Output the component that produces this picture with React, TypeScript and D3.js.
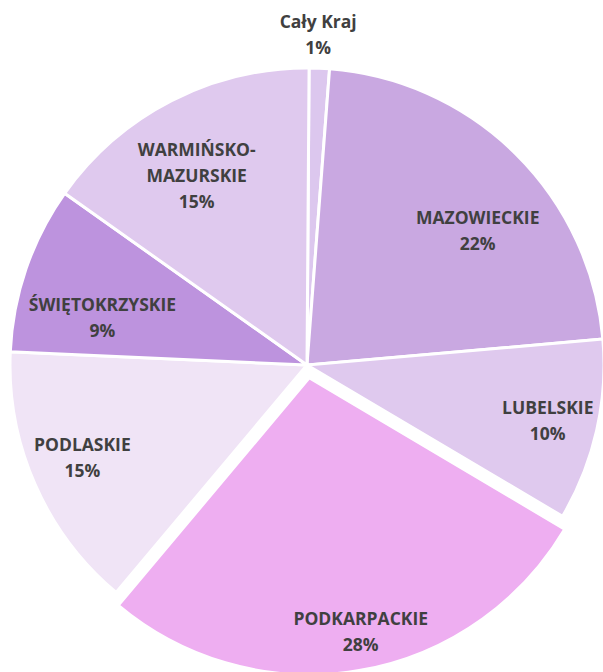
import React from "react";
import { pie, arc, PieArcDatum } from "d3";

// shares; labels show the rounded value
const regions = [
  "Cały Kraj",
  "MAZOWIECKIE",
  "LUBELSKIE",
  "PODKARPACKIE",
  "PODLASKIE",
  "ŚWIĘTOKRZYSKIE",
  "WARMIŃSKO-MAZURSKIE",
];
const shares = [1.1, 22.4, 9.9, 27.6, 14.6, 9.1, 15.3];
const colors = [
  "#dcc7ee",
  "#c9a8e1",
  "#dfc9ee",
  "#eeaef1",
  "#f0e4f6",
  "#bd93de",
  "#dfc9ee",
];

// label line breaks and placement (layout only)
const labelLines: Record<string, string[]> = {
  "WARMIŃSKO-MAZURSKIE": ["WARMIŃSKO-", "MAZURSKIE"],
};
const labelAngleNudge = [-0.45, 7.2, 0.1, -1.8, 1.3, -5.9, -3.1];
const labelRadius = [331, 217, 247, 259, 243, 210, 219];

type Slice = { name: string; value: number; color: string };

export default function App() {
  const width = 603;
  const height = 672;
  const cx = 307;
  const cy = 365;
  const radius = 297;
  const explode = 13;
  const rot = (0.4 * Math.PI) / 180;

  const data: Slice[] = regions.map((name, i) => ({
    name,
    value: shares[i],
    color: colors[i],
  }));

  const arcs = pie<Slice>()
    .value((d) => d.value)
    .sort(null)
    .startAngle(rot)
    .endAngle(rot + Math.PI * 2)(data);

  const arcGen = arc<PieArcDatum<Slice>>().innerRadius(0).outerRadius(radius);

  const offsetOf = (d: PieArcDatum<Slice>) => (d.data.name === "PODKARPACKIE" ? explode : 0);

  return (
    <svg
      width={width}
      height={height}
      style={{ position: "absolute", left: 0, top: 0, display: "block" }}
    >
      <rect width={width} height={height} fill="#ffffff" />
      <g transform={`translate(${cx},${cy})`}>
        {arcs.map((d, i) => {
          const mid = (d.startAngle + d.endAngle) / 2;
          const off = offsetOf(d);
          return (
            <path
              key={i}
              d={arcGen(d) ?? ""}
              transform={`translate(${off * Math.sin(mid)},${-off * Math.cos(mid)})`}
              fill={d.data.color}
              stroke="#ffffff"
              strokeWidth={3}
            />
          );
        })}
        {arcs.map((d, i) => {
          const mid = (d.startAngle + d.endAngle) / 2;
          const off = offsetOf(d);
          const a = mid + (labelAngleNudge[i] * Math.PI) / 180;
          const r = labelRadius[i];
          const x = off * Math.sin(mid) + r * Math.sin(a);
          const y = -off * Math.cos(mid) - r * Math.cos(a);
          const lines = [
            ...(labelLines[d.data.name] ?? [d.data.name]),
            `${Math.round(d.data.value)}%`,
          ];
          const lh = 26;
          const y0 = y - ((lines.length - 1) * lh) / 2;
          return (
            <text
              key={`l${i}`}
              x={x}
              textAnchor="middle"
              fontFamily="'Open Sans', sans-serif"
              fontWeight="bold"
              fontSize={17.5}
              fill="#404040"
            >
              {lines.map((t, j) => (
                <tspan key={j} x={x} y={y0 + j * lh} dy="0.36em">
                  {t}
                </tspan>
              ))}
            </text>
          );
        })}
      </g>
    </svg>
  );
}
